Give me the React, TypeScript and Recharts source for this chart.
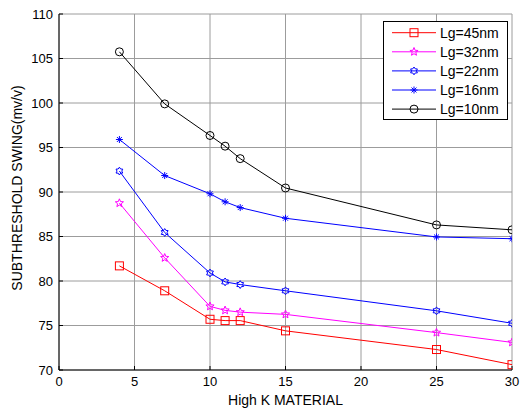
import React from 'react';
import { LineChart, Line, XAxis, YAxis, CartesianGrid, Legend } from 'recharts';

const kValues = [4, 7, 10, 11, 12, 15, 25, 30];
const lg45 = [81.7, 78.9, 75.7, 75.55, 75.55, 74.4, 72.3, 70.6];
const lg32 = [88.75, 82.6, 77.15, 76.7, 76.5, 76.25, 74.2, 73.1];
const lg22 = [92.35, 85.45, 80.9, 79.9, 79.6, 78.9, 76.65, 75.25];
const lg16 = [95.9, 91.85, 89.8, 88.9, 88.25, 87.05, 84.95, 84.75];
const lg10 = [105.75, 99.9, 96.35, 95.15, 93.75, 90.45, 86.3, 85.75];

const seriesNames = ['Lg=45nm', 'Lg=32nm', 'Lg=22nm', 'Lg=16nm', 'Lg=10nm'];
const seriesKeys = ['lg45', 'lg32', 'lg22', 'lg16', 'lg10'];
const seriesColors = ['#ff0000', '#ff00ff', '#0000ff', '#0000ff', '#000000'];
const seriesMarkers = ['square', 'pentagram', 'hexagram', 'asterisk', 'circle'];

const xTicks = [0, 5, 10, 15, 20, 25, 30];
const yTicks = [70, 75, 80, 85, 90, 95, 100, 105, 110];

const xLabel = 'High K MATERIAL';
const yLabel = 'SUBTHRESHOLD SWING(mv/v)';

const data = kValues.map((k, i) => ({
  k,
  lg45: lg45[i],
  lg32: lg32[i],
  lg22: lg22[i],
  lg16: lg16[i],
  lg10: lg10[i],
}));

const FONT = 'Liberation Sans, Arial, Helvetica, sans-serif';

function starPoints(cx: number, cy: number, n: number, ro: number, ri: number) {
  const pts: string[] = [];
  for (let i = 0; i < n * 2; i++) {
    const r = i % 2 === 0 ? ro : ri;
    const a = -Math.PI / 2 + (i * Math.PI) / n;
    pts.push(`${(cx + r * Math.cos(a)).toFixed(2)},${(cy + r * Math.sin(a)).toFixed(2)}`);
  }
  return pts.join(' ');
}

function Marker({ type, cx, cy, color }: { type: string; cx: number; cy: number; color: string }) {
  if (type === 'square') {
    return <rect x={cx - 4} y={cy - 4} width={8} height={8} fill="none" stroke={color} strokeWidth={1} />;
  }
  if (type === 'circle') {
    return <circle cx={cx} cy={cy} r={4} fill="none" stroke={color} strokeWidth={1} />;
  }
  if (type === 'pentagram') {
    return <polygon points={starPoints(cx, cy, 5, 4.3, 1.9)} fill="none" stroke={color} strokeWidth={1} />;
  }
  if (type === 'hexagram') {
    return <polygon points={starPoints(cx, cy, 6, 3.9, 2.4)} fill="none" stroke={color} strokeWidth={1} />;
  }
  // asterisk
  const r = 3.5;
  const d = r * 0.707;
  return (
    <g stroke={color} strokeWidth={1}>
      <line x1={cx} y1={cy - r} x2={cx} y2={cy + r} />
      <line x1={cx - r} y1={cy} x2={cx + r} y2={cy} />
      <line x1={cx - d} y1={cy - d} x2={cx + d} y2={cy + d} />
      <line x1={cx - d} y1={cy + d} x2={cx + d} y2={cy - d} />
    </g>
  );
}

const makeDot = (type: string, color: string) => (props: any) => {
  const { cx, cy, index } = props;
  if (cx == null || cy == null) return <g key={`d-${index}`} />;
  return (
    <g key={`${type}-${index}`}>
      <Marker type={type} cx={cx} cy={cy} color={color} />
    </g>
  );
};

const LegendBox = () => {
  const rowH = 19.1;
  return (
    <svg width={125} height={99} style={{ display: 'block' }}>
      <rect x={0.5} y={0.5} width={124} height={98} fill="#fff" stroke="#000" strokeWidth={1} />
      {seriesNames.map((name, i) => {
        const y = 11.7 + i * rowH;
        return (
          <g key={name}>
            <line x1={9} y1={y} x2={53} y2={y} stroke={seriesColors[i]} strokeWidth={1} />
            <Marker type={seriesMarkers[i]} cx={31} cy={y} color={seriesColors[i]} />
            <text x={57} y={y + 5} fontSize={14} fontFamily={FONT} fill="#000">
              {name}
            </text>
          </g>
        );
      })}
    </svg>
  );
};

const emptyTick = () => <g />;

export default function App() {
  return (
    <div style={{ position: 'absolute', left: 0, top: 0, width: 528, height: 412, background: '#fff' }}>
      <LineChart
        width={528}
        height={412}
        data={data}
        margin={{ top: 14, right: 16, bottom: 0, left: 0 }}
      >
        <CartesianGrid stroke="#9c9c9c" strokeWidth={1} />
        <XAxis
          dataKey="k"
          type="number"
          domain={[0, 30]}
          ticks={xTicks}
          allowDataOverflow
          height={42}
          stroke="#000"
          tickSize={-4}
          tickMargin={11}
          tick={{ fill: '#000', fontSize: 13, fontFamily: FONT }}
          label={(p: any) => {
            const vb = p.viewBox || {};
            return (
              <text
                x={(vb.x ?? 59) + (vb.width ?? 452) / 2}
                y={404.5}
                textAnchor="middle"
                fontSize={14}
                fontFamily={FONT}
                fill="#000"
              >
                {xLabel}
              </text>
            );
          }}
        />
        <XAxis
          xAxisId="top"
          dataKey="k"
          type="number"
          orientation="top"
          domain={[0, 30]}
          ticks={xTicks}
          allowDataOverflow
          height={0}
          stroke="#000"
          tickSize={-4}
          tick={emptyTick}
        />
        <YAxis
          type="number"
          domain={[70, 110]}
          ticks={yTicks}
          allowDataOverflow
          width={59}
          stroke="#000"
          tickSize={-4}
          tickMargin={10}
          tick={{ fill: '#000', fontSize: 13, fontFamily: FONT }}
          label={() => (
            <text
              x={22}
              y={188}
              transform="rotate(-90, 22, 188)"
              textAnchor="middle"
              fontSize={14}
              fontFamily={FONT}
              fill="#000"
            >
              {yLabel}
            </text>
          )}
        />
        <YAxis
          yAxisId="right"
          type="number"
          orientation="right"
          domain={[70, 110]}
          ticks={yTicks}
          allowDataOverflow
          width={0}
          stroke="#000"
          tickSize={-4}
          tick={emptyTick}
        />
        {seriesKeys.map((key, i) => (
          <Line
            key={key}
            type="linear"
            dataKey={key}
            name={seriesNames[i]}
            stroke={seriesColors[i]}
            strokeWidth={1}
            dot={makeDot(seriesMarkers[i], seriesColors[i])}
            activeDot={false}
            isAnimationActive={false}
          />
        ))}
        <Legend
          layout="vertical"
          align="center"
          verticalAlign="middle"
          content={() => <LegendBox />}
          wrapperStyle={{ position: 'absolute', left: 383, top: 21, width: 125, height: 99 }}
        />
      </LineChart>
    </div>
  );
}
